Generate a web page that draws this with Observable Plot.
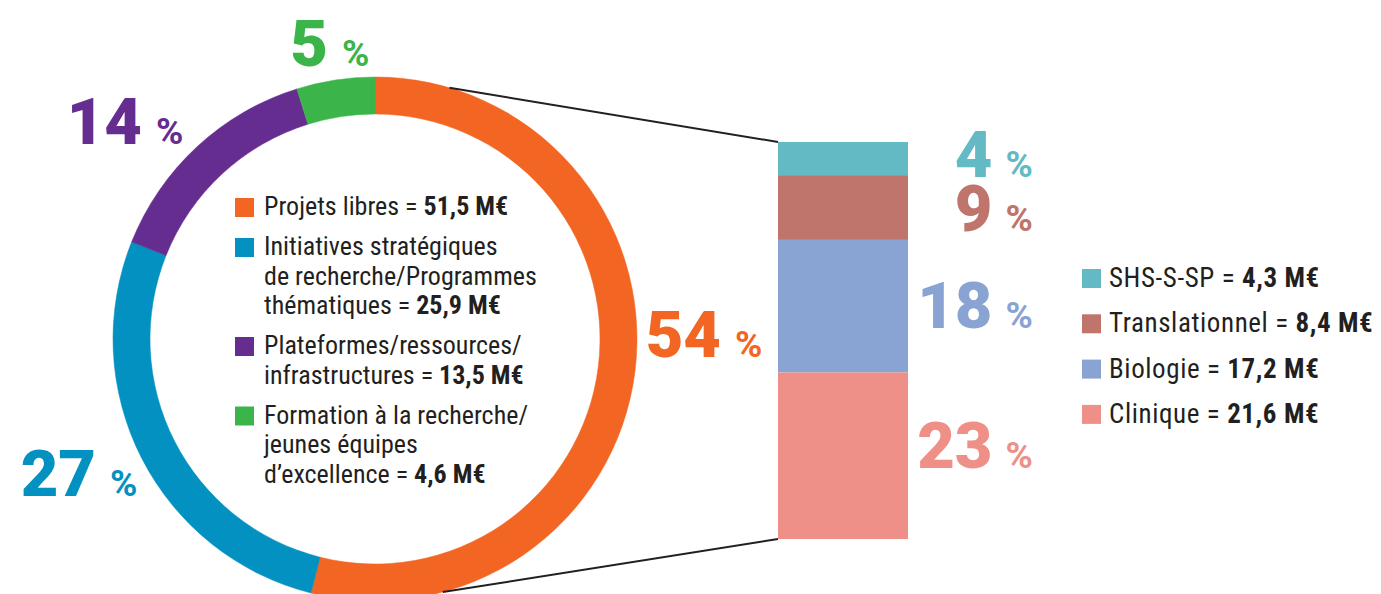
<!DOCTYPE html>
<html><head><meta charset="utf-8">
<script src="https://cdn.jsdelivr.net/npm/d3@7"></script>
<script src="https://cdn.jsdelivr.net/npm/@observablehq/plot@0.6"></script>
<style>
html,body{margin:0;padding:0;background:#fff;}
#chart{width:1381px;height:594px;overflow:hidden;}
</style></head><body><div id="chart"></div>
<script>
// ---------- DATA ----------
const donutCategories = ["Projets libres", "Initiatives stratégiques de recherche/Programmes thématiques", "Plateformes/ressources/infrastructures", "Formation à la recherche/jeunes équipes d’excellence"];
const donutLegendLines = [
  ["Projets libres = "],
  ["Initiatives stratégiques", "de recherche/Programmes", "thématiques = "],
  ["Plateformes/ressources/", "infrastructures = "],
  ["Formation à la recherche/", "jeunes équipes", "d’excellence = "]
];
const donutValues = [51.5, 25.9, 13.5, 4.6];   // M€
const donutPercents = [54, 27, 14, 5];
const donutColors = ["#f26522", "#0391c1", "#662d91", "#3bb54a"];

const barCategories = ["SHS-S-SP", "Translationnel", "Biologie", "Clinique"];
const barValues = [4.3, 8.4, 17.2, 21.6];      // M€ (breakdown of "Projets libres")
const barPercents = [4, 9, 18, 23];
const barColors = ["#63b9c4", "#bf746c", "#89a4d2", "#ee9087"];

// ---------- LAYOUT ----------
const W = 1381, H = 594;
const DONUT = {cx: 375, cy: 339, rOuter: 262, rInner: 225};
const BAR = {x1: 778, x2: 908, top: 142, bottom: 539};
const LINK_ANGLES = [16.5, 165]; // degrees clockwise from top, where connectors leave the ring
const donutLabelPos = [[721, 357], [96, 496], [142, 144], [328, 66]]; // right edge of number, baseline
const barLabelRight = 992;
const barLabelDy = [18, 23, 21, 12];
const NUM_FONT = "Roboto, 'Open Sans', sans-serif";
const TXT_FONT = "'Roboto Condensed', 'Liberation Sans Narrow', 'DejaVu Sans Condensed', 'Arial Narrow', Roboto, sans-serif";
const fmtM = v => v.toFixed(1).replace(".", ",") + " M€";

// ---------- DERIVED ----------
const barTotal = d3.sum(barValues);
let acc = 0;
const barRows = barCategories.map((c, i) => ({c, v: barValues[i], p: barPercents[i], color: barColors[i], i}))
  .reverse()
  .map(d => { const r = {...d, y1: acc, y2: acc + d.v, mid: acc + d.v / 2}; acc += d.v; return r; })
  .reverse();

function donutMark(index, scales) {
  const g = d3.create("svg:g").attr("text-anchor", "start");
  const cx = scales.x(DONUT.cx), cy = DONUT.cy;
  const pie = d3.pie().sort(null).value(d => d).startAngle(0).endAngle(2 * Math.PI)(donutValues);
  const arc = d3.arc().innerRadius(DONUT.rInner).outerRadius(DONUT.rOuter);
  g.append("g").attr("transform", `translate(${cx},${cy})`)
    .selectAll("path").data(pie).join("path")
    .attr("d", arc).attr("fill", (d, i) => donutColors[i])
    .attr("stroke", (d, i) => donutColors[i]).attr("stroke-width", 0.5);

  // connectors to the bar (Projets libres breakdown)
  const yTop = scales.y(barTotal), yBot = scales.y(0), xb = scales.x(BAR.x1);
  [[LINK_ANGLES[0], yTop], [LINK_ANGLES[1], yBot]].forEach(([a, yb]) => {
    const t = a * Math.PI / 180;
    g.append("line")
      .attr("x1", cx + DONUT.rOuter * Math.sin(t)).attr("y1", cy - DONUT.rOuter * Math.cos(t))
      .attr("x2", xb).attr("y2", yb)
      .attr("stroke", "#231f20").attr("stroke-width", 2);
  });

  // percentage labels around the ring
  donutPercents.forEach((p, i) => {
    const [x, y] = donutLabelPos[i];
    g.append("text").attr("x", x).attr("y", y).attr("text-anchor", "end").attr("fill", donutColors[i])
      .style("font", `900 65px ${NUM_FONT}`).text(p);
    g.append("text").attr("x", x + 14).attr("y", y).attr("text-anchor", "start").attr("fill", donutColors[i])
      .style("font", `700 37px ${NUM_FONT}`).text("%");
  });

  // legend inside the donut
  let base = 215;
  donutLegendLines.forEach((lines, i) => {
    g.append("rect").attr("x", 235).attr("y", base - 17).attr("width", 19).attr("height", 19)
      .attr("fill", donutColors[i]);
    lines.forEach((ln, j) => {
      const t = g.append("text").attr("x", 264).attr("y", base + j * 29.5).attr("text-anchor", "start")
        .attr("fill", "#231f20").style("font", `400 26px ${TXT_FONT}`);
      t.append("tspan").text(ln);
      if (j === lines.length - 1) t.append("tspan").attr("font-weight", 700).text(fmtM(donutValues[i]));
    });
    base += (lines.length - 1) * 29.5 + 40;
  });

  // legend for the bar
  barCategories.forEach((c, i) => {
    const y = 287 + i * 45.3;
    g.append("rect").attr("x", 1082).attr("y", y - 18).attr("width", 19).attr("height", 19).attr("fill", barColors[i]);
    const t = g.append("text").attr("x", 1109).attr("y", y).attr("text-anchor", "start").attr("fill", "#231f20")
      .style("font", `400 27px ${TXT_FONT}`).style("letter-spacing", "0.6px");
    t.append("tspan").text(c + " = ");
    t.append("tspan").attr("font-weight", 700).text(fmtM(barValues[i]));
  });
  return g.node();
}

const chart = Plot.plot({
  width: W, height: H,
  marginLeft: 0, marginRight: 0, marginTop: BAR.top, marginBottom: H - BAR.bottom,
  x: {domain: [0, W], axis: null},
  y: {domain: [0, barTotal], axis: null},
  style: {background: "#fff", overflow: "visible"},
  marks: [
    Plot.rectY(barRows, {x1: BAR.x1, x2: BAR.x2, y1: "y1", y2: "y2", fill: "color"}),
    ...barRows.map(d => Plot.text([d], {x: barLabelRight, y: "mid", text: r => String(r.p), fill: "color",
      textAnchor: "end", lineAnchor: "bottom", dy: barLabelDy[d.i],
      fontSize: 65, fontWeight: 900, fontFamily: NUM_FONT})),
    ...barRows.map(d => Plot.text([d], {x: barLabelRight + 13, y: "mid", text: () => "%", fill: "color",
      textAnchor: "start", lineAnchor: "bottom", dy: barLabelDy[d.i],
      fontSize: 37, fontWeight: 700, fontFamily: NUM_FONT})),
    donutMark
  ]
});
document.getElementById("chart").appendChild(chart);
</script>
</body></html>
